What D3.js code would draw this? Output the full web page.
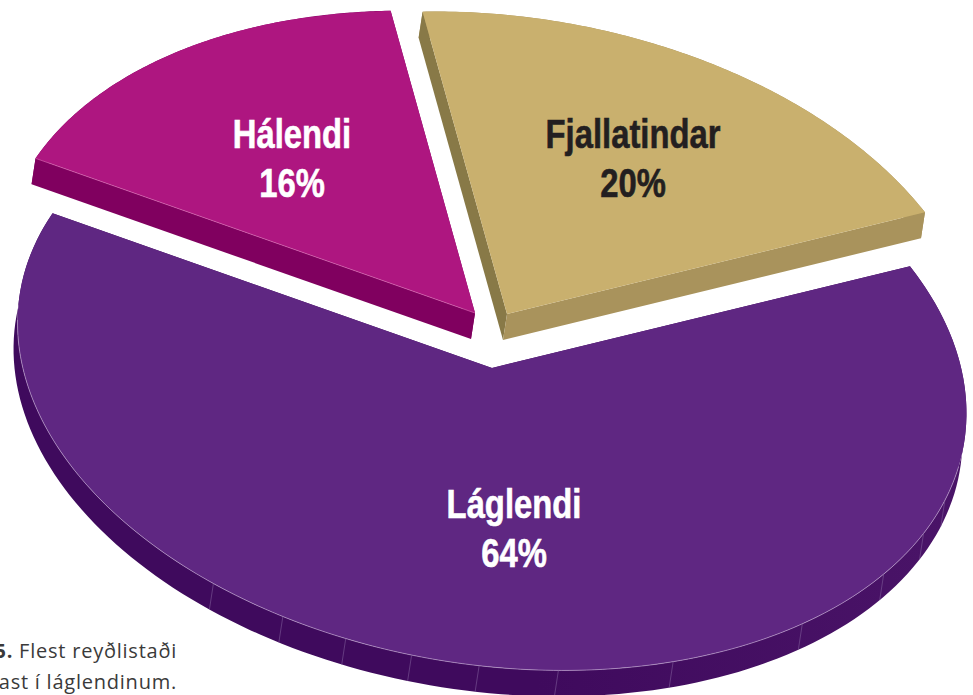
<!DOCTYPE html>
<html>
<head>
<meta charset="utf-8">
<script src="https://cdn.jsdelivr.net/npm/d3@7"></script>
<style>
  body { margin: 0; background: #fff; }
  svg { display: block; }
  .label { font-family: "Liberation Sans", sans-serif; font-weight: 700; font-size: 40px; text-anchor: middle; stroke-width: 0.6; }
  .caption { font-family: "Open Sans", sans-serif; font-size: 20px; letter-spacing: 0.77px; fill: #3a3a3a; text-anchor: end; }
</style>
</head>
<body>
<div id="chart"></div>
<script>
const categories = ['Láglendi', 'Hálendi', 'Fjallatindar'];
const shares = [64, 16, 20];
const topColors = ['#5f2782', '#ae1680', '#c9b06e'];
const wallColors = ['url(#purpleWall)', '#80005f', '#a9935c'];
const sideColors = ['#3f0a5d', '#80005f', '#887947'];
const labelColors = ['#ffffff', '#ffffff', '#231f20'];
// the lighter seams on the purple wall, degrees clockwise from the top
const seamAngles = [101.8, 109, 118.8, 133.6, 152, 166.4, 176, 184.2, 192.4, 200.6, 210.4];

const width = 973;
const height = 695;
const centerX = 492;
const centerY = 368;
const radius = 478;
const squash = 0.621;
const tilt = 8.9;
const startDeg = 56.2;
const depth = [-4, 26];
const sliceOffsets = [[0, 0], [-17, -55], [15, -54]];
const labelSpots = [[514, 518], [292, 148], [633, 148]];
const labelStretch = 0.82;
const lineGap = 49;

const toRad = d => d * Math.PI / 180;

// slice-local point on the tilted rim, phi in radians clockwise from the top
function rimPoint(phi) {
    const x = radius * Math.sin(phi);
    const y = -radius * Math.cos(phi) * squash;
    const t = toRad(tilt);
    return [x * Math.cos(t) - y * Math.sin(t), x * Math.sin(t) + y * Math.cos(t)];
}

function lowered(p) {
    return [p[0] + depth[0], p[1] + depth[1]];
}

function outerWall(a0, a1) {
    const rim = d3.range(0, 161).map(i => rimPoint(a0 + (a1 - a0) * i / 160));
    return rim.concat(rim.map(lowered).reverse());
}

function radialWall(a) {
    const p = rimPoint(a);
    return [[0, 0], p, lowered(p), lowered([0, 0])];
}

function pieBuilder() {
    const svg = d3.select('#chart').append('svg')
        .attr('width', width)
        .attr('height', height);

    const wallGradient = svg.append('defs').append('linearGradient')
        .attr('id', 'purpleWall');
    wallGradient.append('stop').attr('offset', '55%').attr('stop-color', '#3f0a5d');
    wallGradient.append('stop').attr('offset', '100%').attr('stop-color', '#4a1468');

    const pie = d3.pie()
        .sort(null)
        .startAngle(toRad(startDeg))
        .endAngle(toRad(startDeg + 360));
    const arcs = pie(shares);

    const arc = d3.arc().innerRadius(0).outerRadius(radius);
    const line = d3.line();
    const closed = d3.line().curve(d3.curveLinearClosed);

    const slices = svg.selectAll('g.slice')
        .data(arcs)
        .enter()
        .append('g')
        .attr('class', 'slice')
        .attr('transform', (d, i) => `translate(${centerX + sliceOffsets[i][0]},${centerY + sliceOffsets[i][1]})`);

    slices.append('path')
        .attr('d', d => closed(outerWall(d.startAngle, d.endAngle)))
        .attr('fill', (d, i) => wallColors[i]);
    slices.append('path')
        .attr('d', d => closed(radialWall(d.startAngle)))
        .attr('fill', (d, i) => sideColors[i]);
    slices.append('path')
        .attr('d', d => closed(radialWall(d.endAngle)))
        .attr('fill', (d, i) => wallColors[i]);

    slices.append('path')
        .attr('transform', `rotate(${tilt}) scale(1,${squash})`)
        .attr('d', arc)
        .attr('fill', (d, i) => topColors[i]);

    // light rim and seams where the top meets the wall
    const purple = slices.filter((d, i) => i === 0);
    purple.append('path')
        .attr('d', line(d3.range(95, 266).map(a => rimPoint(toRad(a)))))
        .attr('fill', 'none')
        .attr('stroke', '#b79ac9')
        .attr('stroke-width', 0.7);
    purple.selectAll('line.seam')
        .data(seamAngles)
        .enter()
        .append('line')
        .attr('class', 'seam')
        .attr('x1', a => rimPoint(toRad(a))[0])
        .attr('y1', a => rimPoint(toRad(a))[1])
        .attr('x2', a => lowered(rimPoint(toRad(a)))[0])
        .attr('y2', a => lowered(rimPoint(toRad(a)))[1])
        .attr('stroke', '#7d5a98')
        .attr('stroke-width', 0.6);

    slices.filter((d, i) => i === 1).append('path')
        .attr('d', d => line([[0, 0], rimPoint(d.startAngle)]))
        .attr('stroke', '#d463ad')
        .attr('stroke-width', 0.7);

    const labels = svg.selectAll('text.label')
        .data(categories)
        .enter()
        .append('text')
        .attr('class', 'label')
        .attr('fill', (d, i) => labelColors[i])
        .attr('stroke', (d, i) => labelColors[i])
        .attr('transform', (d, i) => `translate(${labelSpots[i][0]},${labelSpots[i][1]}) scale(${labelStretch},1)`);
    labels.append('tspan').text(d => d);
    labels.append('tspan')
        .attr('x', 0)
        .attr('dy', lineGap)
        .text((d, i) => shares[i] + '%');

    const caption = svg.append('text')
        .attr('class', 'caption')
        .attr('x', 177)
        .attr('y', 658);
    caption.append('tspan').attr('font-weight', 700).text('5.');
    caption.append('tspan').text(' Flest reyðlistaði');
    svg.append('text')
        .attr('class', 'caption')
        .attr('x', 177)
        .attr('y', 689)
        .text('ast í láglendinum.');
}

pieBuilder();
</script>
</body>
</html>
